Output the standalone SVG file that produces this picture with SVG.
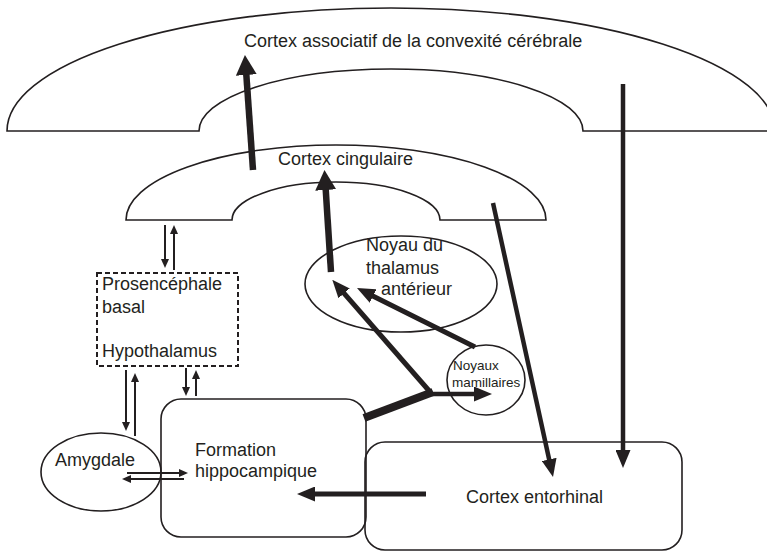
<svg xmlns="http://www.w3.org/2000/svg" width="767" height="553" viewBox="0 0 767 553">
  <style>
    .outline { fill: none; stroke: #231f20; stroke-width: 1.6; }
    .dashed { fill: none; stroke: #231f20; stroke-width: 2; stroke-dasharray: 5 3; }
    .label { font-family: "Liberation Sans", Arial, sans-serif; font-size: 18px; fill: #231f20; }
    .small { font-size: 13.5px; }
    .conn { stroke: #231f20; fill: none; stroke-linecap: butt; }
    .w2 { stroke-width: 2; marker-end: url(#head-sm); }
    .w4 { stroke-width: 4.5; marker-end: url(#head-md); }
    .w5 { stroke-width: 5; marker-end: url(#head-md); }
    .w6 { stroke-width: 6.5; marker-end: url(#head-lg); }
    .w8 { stroke-width: 8; }
  </style>
  <defs>
    <marker id="head-lg" viewBox="0 0 20 21" markerWidth="20" markerHeight="21" refX="2" refY="10.5" orient="auto" markerUnits="userSpaceOnUse">
      <path d="M0,0 L20,10.5 L0,21 Z" fill="#231f20"/>
    </marker>
    <marker id="head-md" viewBox="0 0 18 15" markerWidth="18" markerHeight="15" refX="2" refY="7.5" orient="auto" markerUnits="userSpaceOnUse">
      <path d="M0,0 L18,7.5 L0,15 Z" fill="#231f20"/>
    </marker>
    <marker id="head-sm" viewBox="0 0 9 8" markerWidth="9" markerHeight="8" refX="1" refY="4" orient="auto" markerUnits="userSpaceOnUse">
      <path d="M0,0 L9,4 L0,8 Z" fill="#231f20"/>
    </marker>
  </defs>

  <!-- Associative cortex of the convexity: large arch -->
  <g id="cortex-associatif">
    <path class="outline" d="M7,131 A384,123 0 0 1 775,131 L583,131 A192,62 0 0 0 199,131 Z"/>
    <text class="label" x="244" y="47">Cortex associatif de la convexité cérébrale</text>
  </g>

  <!-- Cingulate cortex arch -->
  <g id="cortex-cingulaire">
    <path class="outline" d="M126,220 A210,75 0 0 1 546,220 L440,220 A104,38 0 0 0 232,220 Z"/>
    <text class="label" x="278" y="165">Cortex cingulaire</text>
  </g>

  <!-- Basal forebrain / hypothalamus -->
  <g id="prosencephale-hypothalamus">
    <rect class="dashed" x="97" y="273" width="141" height="93"/>
    <text class="label" x="102" y="290">Prosencéphale</text>
    <text class="label" x="102" y="313">basal</text>
    <text class="label" x="102" y="357">Hypothalamus</text>
  </g>

  <g id="noyau-thalamus">
    <ellipse class="outline" cx="401" cy="284" rx="96" ry="48"/>
    <text class="label" x="366" y="251">Noyau du</text>
    <text class="label" x="366" y="274">thalamus</text>
    <text class="label" x="381" y="295">antérieur</text>
  </g>

  <g id="noyaux-mamillaires">
    <ellipse class="outline" cx="486" cy="380" rx="39" ry="35"/>
    <text class="label small" x="453" y="370">Noyaux</text>
    <text class="label small" x="452" y="387">mamillaires</text>
  </g>

  <g id="amygdale">
    <ellipse class="outline" cx="101" cy="472" rx="60" ry="39"/>
    <text class="label" x="55" y="466">Amygdale</text>
  </g>

  <g id="formation-hippocampique">
    <rect class="outline" x="161" y="399" width="205" height="138" rx="20"/>
    <text class="label" x="195" y="456">Formation</text>
    <text class="label" x="195" y="477">hippocampique</text>
  </g>

  <g id="cortex-entorhinal">
    <rect class="outline" x="365" y="442" width="317" height="108" rx="20"/>
    <text class="label" x="466" y="503">Cortex entorhinal</text>
  </g>

  <g id="connectors">
    <!-- Papez circuit, heavy strokes -->
    <line class="conn w6" x1="253" y1="170" x2="246.2" y2="73"/>
    <line class="conn w6" x1="331" y1="272" x2="325.6" y2="188"/>
    <line class="conn w8" x1="364" y1="418" x2="433" y2="392"/>
    <line class="conn w5" x1="431" y1="393" x2="342.8" y2="291.8"/>
    <line class="conn w4" x1="430" y1="394" x2="476" y2="394"/>
    <line class="conn w5" x1="475" y1="347" x2="371.3" y2="295.2"/>
    <line class="conn w5" x1="426" y1="494" x2="313" y2="494"/>
    <line class="conn w4" x1="493" y1="203" x2="549.6" y2="461.4"/>
    <line class="conn w4" x1="623" y1="84" x2="623" y2="452"/>

    <!-- Reciprocal thin pairs -->
    <line class="conn w2" x1="165" y1="225" x2="165" y2="260"/>
    <line class="conn w2" x1="174" y1="270" x2="174" y2="233"/>
    <line class="conn w2" x1="126" y1="370" x2="126" y2="423"/>
    <line class="conn w2" x1="135" y1="436" x2="135" y2="381"/>
    <line class="conn w2" x1="186" y1="368" x2="186" y2="388"/>
    <line class="conn w2" x1="196" y1="396" x2="196" y2="378"/>
    <line class="conn w2" x1="127" y1="473" x2="180" y2="473"/>
    <line class="conn w2" x1="184" y1="479" x2="130" y2="479"/>
  </g>
</svg>
